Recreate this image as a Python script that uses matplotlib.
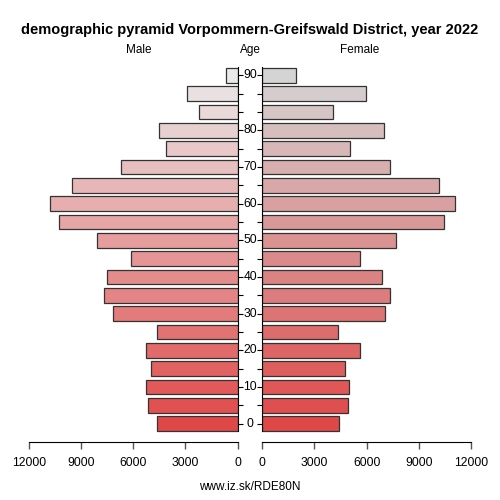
import matplotlib
matplotlib.use("Agg")
import matplotlib.pyplot as plt
import numpy as np
from matplotlib.transforms import blended_transform_factory

plt.rcParams['font.family'] = ['Liberation Sans', 'DejaVu Sans']

age_labels = ["0", "10", "20", "30", "40", "50", "60", "70", "80", "90"]
age_label_pos = [0, 2, 4, 6, 8, 10, 12, 14, 16, 19]
male = [4650, 5130, 5250, 5000, 5250, 4630, 7140, 7690, 7480, 6110,
        8060, 10240, 10760, 9490, 6680, 4100, 4540, 2220, 2930, 690]
female = [4390, 4950, 4970, 4740, 5630, 4370, 7040, 7330, 6900, 5630,
          7670, 10470, 11060, 10140, 7340, 5060, 6980, 4050, 5980, 1940]
xticks = [0, 3000, 6000, 9000, 12000]

n = len(male)
y = np.arange(n)
t = y / (n - 1)
start = np.array([224, 72, 72]) / 255
male_end = np.array([234, 234, 234]) / 255
fem_end = np.array([212, 212, 212]) / 255
male_cols = [tuple(start + (male_end - start) * v) for v in t]
fem_cols = [tuple(start + (fem_end - start) * v) for v in t]

fig = plt.figure(figsize=(5, 5), dpi=100)
axL = fig.add_axes([0.0574, 0.116, 0.418, 0.752])
axR = fig.add_axes([0.5246, 0.116, 0.4174, 0.752])

axL.barh(y, male, height=0.8, color=male_cols, edgecolor='#333333', linewidth=0.9)
axR.barh(y, female, height=0.8, color=fem_cols, edgecolor='#333333', linewidth=0.9)

for ax in (axL, axR):
    ax.set_ylim(-1, 19.5)
    ax.set_xlim(0, 12000)
    ax.set_xticks(xticks)
    ax.set_xticklabels([str(v) for v in xticks], fontsize=8.7)
    ax.spines['top'].set_visible(False)
    ax.spines['bottom'].set_bounds(0, 12000)
    ax.tick_params(axis='x', length=5, width=1, color='#555555', pad=6)
    ax.set_yticks(y)
    ax.set_yticklabels([])
    ax.tick_params(axis='y', length=3.5, width=0.8)

axL.invert_xaxis()
axL.spines['left'].set_visible(False)
axL.spines['right'].set_bounds(-0.42, 19.42)
axL.yaxis.tick_right()
axR.spines['right'].set_visible(False)
axR.spines['left'].set_bounds(-0.42, 19.42)
axR.yaxis.tick_left()

tr = blended_transform_factory(fig.transFigure, axL.transData)
for lab, p in zip(age_labels, age_label_pos):
    fig.text(0.5, p, lab, transform=tr, ha='center', va='center', fontsize=8.7)

fig.text(0.5, 0.94, "demographic pyramid Vorpommern-Greifswald District, year 2022",
         ha='center', va='center', fontsize=10.5, fontweight='bold')
fig.text(0.278, 0.9, "Male", ha='center', va='center', fontsize=8.5)
fig.text(0.5, 0.9, "Age", ha='center', va='center', fontsize=8.5)
fig.text(0.72, 0.9, "Female", ha='center', va='center', fontsize=8.5)
fig.text(0.5, 0.026, "www.iz.sk/RDE80N", ha='center', va='center', fontsize=8.5)

fig.savefig("out.png", dpi=100)
